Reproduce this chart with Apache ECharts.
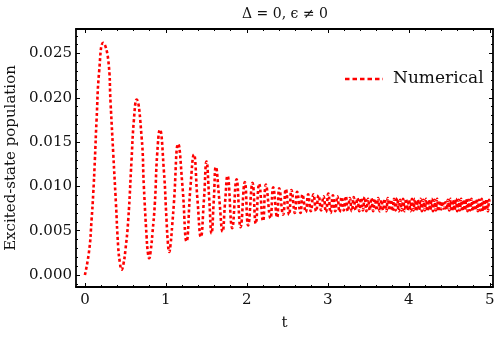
<!DOCTYPE html>
<html><head><meta charset="utf-8">
<script src="https://cdn.jsdelivr.net/npm/echarts@6/dist/echarts.min.js"></script>
<style>html,body{margin:0;padding:0;background:#fff}#c{width:500px;height:345px}</style>
</head><body><div id="c"></div>
<script>
const titleText = 'Δ = 0, ϵ ≠ 0';
const xName = 't';
const yName = 'Excited-state population';
const seriesName = 'Numerical';
const xTicks = [0, 1, 2, 3, 4, 5];
const xMinorTicks = [0.2,0.4,0.6,0.8,1.2,1.4,1.6,1.8,2.2,2.4,2.6,2.8,3.2,3.4,3.6,3.8,4.2,4.4,4.6,4.8];
const yTicks = [0, 0.005, 0.01, 0.015, 0.02, 0.025];
const yMinorTicks = [-0.001,0.001,0.002,0.003,0.004,0.006,0.007,0.008,0.009,0.011,0.012,0.013,0.014,0.016,0.017,0.018,0.019,0.021,0.022,0.023,0.024,0.026,0.027];

const tValues = [
 0, 0.053, 0.082, 0.103, 0.123, 0.144, 0.177, 0.226, 0.288, 0.317, 0.35, 0.383, 0.411, 0.432, 0.453, 0.475, 0.50,
 0.535, 0.576, 0.605, 0.638, 0.70, 0.728, 0.762, 0.778, 0.794, 0.812, 0.835,
 0.864, 0.893, 0.926, 0.975, 1.008, 1.025, 1.041, 1.058, 1.078,
 1.099, 1.152, 1.205, 1.255, 1.304, 1.346, 1.39, 1.432, 1.47, 1.502, 1.534, 1.564, 1.592, 1.617, 1.66, 1.70, 1.731, 1.761,
 1.819, 1.873, 1.922, 1.975, 2.016, 2.07, 2.11, 2.152, 2.20, 2.235, 2.292, 2.325,
 2.374, 2.40, 2.448, 2.481, 2.522, 2.551, 2.593, 2.621, 2.663, 2.687, 2.728, 2.757,
 2.79, 2.823, 2.855, 2.886, 2.917, 2.947, 2.977, 3.006, 3.035, 3.063, 3.091, 3.118,
 3.145, 3.171, 3.197, 3.222, 3.247, 3.272, 3.296, 3.32, 3.343, 3.366, 3.389, 3.411,
 3.433, 3.455, 3.476, 3.497, 3.518, 3.539, 3.56, 3.581, 3.601, 3.622, 3.642, 3.662,
 3.682, 3.702, 3.722, 3.741, 3.761, 3.78, 3.799, 3.818, 3.837, 3.856, 3.875, 3.893,
 3.912, 3.93, 3.949, 3.967, 3.985, 4.003, 4.021, 4.039, 4.057, 4.075, 4.092, 4.11,
 4.127, 4.145, 4.162, 4.179, 4.197, 4.214, 4.231, 4.248, 4.265, 4.282, 4.299, 4.316,
 4.333, 4.35, 4.367, 4.384, 4.4, 4.417, 4.434, 4.45, 4.467, 4.483, 4.5, 4.516,
 4.533, 4.549, 4.565, 4.582, 4.598, 4.614, 4.63, 4.646, 4.662, 4.678, 4.694, 4.71,
 4.726, 4.742, 4.758, 4.774, 4.79, 4.806, 4.821, 4.837, 4.853, 4.868, 4.884, 4.9,
 4.915, 4.931, 4.946, 4.962, 4.977, 4.993, 5.0
];
const popValues = [
 0, 0.0028, 0.0062, 0.0092, 0.013, 0.0175, 0.0231, 0.0262, 0.0243, 0.0194, 0.0137, 0.0081, 0.0032, 0.0014, 0.0006, 0.0012, 0.0028,
 0.0062, 0.013, 0.0175, 0.0198, 0.0156, 0.010, 0.0043, 0.0025, 0.0019, 0.0027, 0.0048,
 0.0081, 0.0137, 0.0164, 0.0118, 0.0062, 0.0036, 0.0026, 0.0035, 0.0056,
 0.0081, 0.0148, 0.010, 0.0038, 0.010, 0.0136, 0.0085, 0.0043, 0.0085, 0.0128, 0.0088, 0.0047, 0.0085, 0.0122, 0.0085, 0.0049, 0.0082, 0.0112,
 0.0053, 0.0108, 0.0054, 0.0105, 0.0056, 0.0104, 0.0058, 0.0103, 0.0061, 0.0102, 0.0064, 0.0099,
 0.0065, 0.0098, 0.0068, 0.0097, 0.0068, 0.0096, 0.0070, 0.0094, 0.0070, 0.0091, 0.0071, 0.0091,
 0.0072, 0.0091, 0.0072, 0.0090, 0.0073, 0.0089, 0.0071, 0.0092, 0.0070, 0.0090, 0.0072, 0.0089,
 0.0071, 0.0088, 0.0073, 0.0089, 0.0072, 0.0087, 0.0072, 0.0088, 0.0073, 0.0087, 0.0072, 0.0087,
 0.0073, 0.0088, 0.0072, 0.0086, 0.0073, 0.0087, 0.0072, 0.0086, 0.0073, 0.0087, 0.0072, 0.0085,
 0.0073, 0.0086, 0.0072, 0.0087, 0.0073, 0.0085, 0.0072, 0.0086, 0.0073, 0.0087, 0.0072, 0.0085,
 0.0073, 0.0086, 0.0072, 0.0086, 0.0073, 0.0085, 0.0072, 0.0086, 0.0073, 0.0086, 0.0072, 0.0085,
 0.0073, 0.0086, 0.0072, 0.0085, 0.0073, 0.0086, 0.0072, 0.0085, 0.0073, 0.0086, 0.0072, 0.0085,
 0.0073, 0.0086, 0.0072, 0.0084, 0.0074, 0.0083, 0.0075, 0.0082, 0.0074, 0.0085, 0.0073, 0.0086,
 0.0072, 0.0085, 0.0073, 0.0086, 0.0072, 0.0085, 0.0073, 0.0086, 0.0072, 0.0085, 0.0073, 0.0086,
 0.0072, 0.0085, 0.0073, 0.0086, 0.0072, 0.0085, 0.0073, 0.0086, 0.0072, 0.0085, 0.0073, 0.0086,
 0.0072, 0.0085, 0.0073, 0.0086, 0.0072, 0.0085, 0.0080
];

const FONT = 'DejaVu Serif';
const X_MIN = -0.11, X_MAX = 5.04, Y_MIN = -0.00135, Y_MAX = 0.02777;
const frame = { show: true, onZero: false, lineStyle: { color: '#000', width: 1.8 } };
const noLine = { show: false, onZero: false };

function xAxisCfg(pos, ticks, len, labels, line, extra) {
  return Object.assign({
    type: 'value', position: pos, min: X_MIN, max: X_MAX,
    axisLine: line ? frame : noLine,
    axisTick: { show: true, inside: true, length: len, customValues: ticks, lineStyle: { color: '#000', width: 1 } },
    axisLabel: labels ? { show: true, customValues: ticks, color: '#111', fontFamily: FONT, fontSize: 15, margin: 6, formatter: v => String(Math.round(v)) } : { show: false },
    splitLine: { show: false }
  }, extra || {});
}
function yAxisCfg(pos, ticks, len, labels, line, extra) {
  return Object.assign({
    type: 'value', position: pos, min: Y_MIN, max: Y_MAX,
    axisLine: line ? frame : noLine,
    axisTick: { show: true, inside: true, length: len, customValues: ticks, lineStyle: { color: '#000', width: 1 } },
    axisLabel: labels ? { show: true, customValues: ticks, color: '#111', fontFamily: FONT, fontSize: 15, margin: 4, formatter: v => v.toFixed(3) } : { show: false },
    splitLine: { show: false }
  }, extra || {});
}

const chart = echarts.init(document.getElementById('c'), null, { renderer: 'canvas' });
chart.setOption({
  animation: false,
  backgroundColor: '#fff',
  grid: { left: 76, right: 7, top: 29, bottom: 58, containLabel: false, outerBoundsMode: 'none' },
  graphic: [
    { type: 'text', x: 285, y: 14, style: { text: titleText, fill: '#111', font: '14px "DejaVu Serif"', textAlign: 'center', textVerticalAlign: 'middle' } },
    { type: 'line', shape: { x1: 345, y1: 79, x2: 383, y2: 79 }, style: { stroke: '#ff0000', lineWidth: 2.5, lineDash: [4.5, 3] } },
    { type: 'text', x: 393, y: 79, style: { text: seriesName, fill: '#111', font: '17px "DejaVu Serif"', textAlign: 'left', textVerticalAlign: 'middle' } }
  ],
  xAxis: [
    xAxisCfg('bottom', xTicks, 4, true, true, { name: xName, nameLocation: 'middle', nameGap: 29, nameTextStyle: { fontFamily: FONT, fontSize: 15, color: '#111' } }),
    xAxisCfg('bottom', xMinorTicks, 2, false, false),
    xAxisCfg('top', xTicks, 4, false, true),
    xAxisCfg('top', xMinorTicks, 2, false, false)
  ],
  yAxis: [
    yAxisCfg('left', yTicks, 4, true, true, { name: yName, nameLocation: 'middle', nameGap: 55, nameTextStyle: { fontFamily: FONT, fontSize: 15, color: '#111' } }),
    yAxisCfg('left', yMinorTicks, 2, false, false),
    yAxisCfg('right', yTicks, 4, false, true),
    yAxisCfg('right', yMinorTicks, 2, false, false)
  ],
  series: [{
    name: seriesName, type: 'line', xAxisIndex: 0, yAxisIndex: 0,
    showSymbol: false, symbol: 'none', smooth: 0.5,
    lineStyle: { color: '#ff0000', width: 2.6, type: [3, 2.5] },
    itemStyle: { color: '#ff0000' },
    data: tValues.map((t, i) => [t, popValues[i]])
  }]
});
</script></body></html>
